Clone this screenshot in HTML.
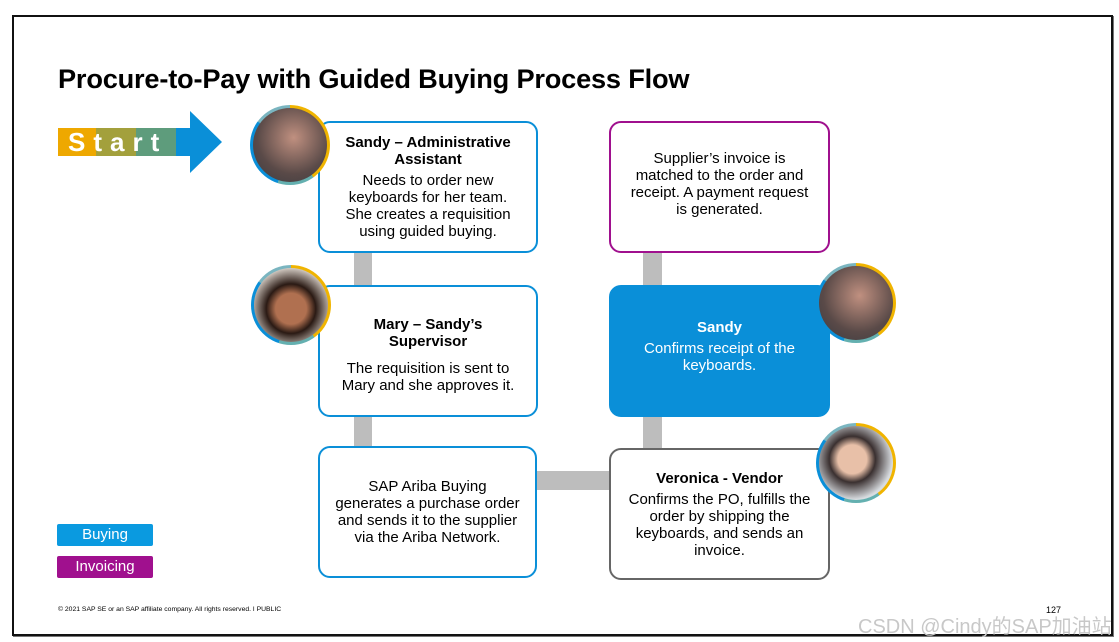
<!DOCTYPE html>
<html><head><meta charset="utf-8"><style>
body{margin:0;width:1119px;height:642px;background:#fff;position:relative;overflow:hidden;font-family:"Liberation Sans",Arial,sans-serif}
.frame{position:absolute;left:12px;top:15px;width:1097px;height:617px;border:2px solid #111;box-shadow:1px 1px 0 #777}
.a{position:absolute}
h1{position:absolute;left:58px;top:63px;margin:0;font-size:27.2px;font-weight:bold;color:#000;letter-spacing:-0.2px}
.box{position:absolute;width:216px;height:128px;border:2px solid #0a8fd8;border-radius:12px;background:#fff;display:flex;flex-direction:column;justify-content:center;align-items:center;text-align:center;font-size:15px;line-height:17px;color:#000;box-sizing:border-box;padding:0 20px}
.box b{display:block;margin-bottom:4px}
.bar{position:absolute;background:#bdbdbd}
.av{position:absolute;width:80px;height:80px;border-radius:50%;background:conic-gradient(#f0b400 0 40%,#64b0b0 40% 55%,#0a8fd8 55% 85%,#7ab5c0 85% 100%);}
.av::after{content:"";position:absolute;left:3px;top:3px;width:74px;height:74px;border-radius:50%;background:var(--p)}
.leg{position:absolute;left:57px;width:96px;height:22px;color:#fff;font-size:15px;text-align:center;line-height:22px;border-radius:2px}
</style></head><body>
<div class="frame"></div>
<h1>Procure-to-Pay with Guided Buying Process Flow</h1>
<div class="a" style="left:58px;top:128px;width:38px;height:28px;background:#eea800"></div>
<div class="a" style="left:96px;top:128px;width:40px;height:28px;background:#a3a03c"></div>
<div class="a" style="left:136px;top:128px;width:40px;height:28px;background:#5e9c7c"></div>
<div class="a" style="left:176px;top:128px;width:15px;height:28px;background:#0a8fd8"></div>
<div class="a" style="left:190px;top:111px;width:0;height:0;border-top:31px solid transparent;border-bottom:31px solid transparent;border-left:32px solid #0a8fd8"></div>
<div class="a" style="left:68px;top:127px;color:#fff;font-weight:bold;font-size:26px;letter-spacing:8px">Start</div>

<div class="bar" style="left:354px;top:250px;width:18px;height:40px"></div>
<div class="bar" style="left:354px;top:414px;width:18px;height:36px"></div>
<div class="bar" style="left:643px;top:250px;width:19px;height:40px"></div>
<div class="bar" style="left:643px;top:414px;width:19px;height:38px"></div>
<div class="bar" style="left:535px;top:471px;width:78px;height:19px"></div>

<div class="box" style="left:318px;top:121px;height:132px;width:220px"><b>Sandy – Administrative Assistant</b>Needs to order new keyboards for her team. She creates a requisition using guided buying.</div>
<div class="box" style="left:318px;top:285px;height:132px;width:220px;padding-top:8px"><b style="margin-bottom:10px">Mary – Sandy’s Supervisor</b>The requisition is sent to Mary and she approves it.</div>
<div class="box" style="left:318px;top:446px;height:132px;width:219px;padding:0 14px 0">SAP Ariba Buying generates a purchase order and sends it to the supplier via the Ariba Network.</div>
<div class="box" style="left:609px;top:121px;height:132px;width:221px;border-color:#a0108e;padding:0 14px 6px">Supplier’s invoice is matched to the order and receipt. A payment request is generated.</div>
<div class="box" style="left:609px;top:285px;height:132px;width:221px;background:#0a8fd8;border-color:#0a8fd8;color:#fff;padding-bottom:10px"><b>Sandy</b>Confirms receipt of the keyboards.</div>
<div class="box" style="left:609px;top:448px;height:132px;width:221px;border-color:#666;padding:0 10px"><b>Veronica - Vendor</b>Confirms the PO, fulfills the order by shipping the keyboards, and sends an invoice.</div>

<div class="av" style="left:250px;top:105px;--p:radial-gradient(circle at 55% 40%,#c09080,#5a4a48 60%,#3a3a40)"></div>
<div class="av" style="left:251px;top:265px;--p:radial-gradient(circle at 50% 55%,#b07050 0 28%,#2a1a14 45%,#d8d0c8 75%)"></div>
<div class="av" style="left:816px;top:263px;--p:radial-gradient(circle at 55% 40%,#c09080,#5a4a48 60%,#3a3a40)"></div>
<div class="av" style="left:816px;top:423px;--p:radial-gradient(circle at 45% 45%,#e8c0a8 0 25%,#3a3030 40%,#d8dce0 70%)"></div>

<div class="leg" style="top:524px;background:#0a9ae0">Buying</div>
<div class="leg" style="top:556px;background:#a0108e">Invoicing</div>
<div class="a" style="left:58px;top:606px;font-size:6.8px;color:#000">© 2021 SAP SE or an SAP affiliate company. All rights reserved. ǀ PUBLIC</div>
<div class="a" style="left:1046px;top:605px;font-size:9px;color:#000">127</div>
<div class="a" style="left:858px;top:610px;font-size:20px;color:#c8c8c8;font-family:'Liberation Sans','Noto Sans CJK SC',sans-serif">CSDN @Cindy的SAP加油站</div>
</body></html>
